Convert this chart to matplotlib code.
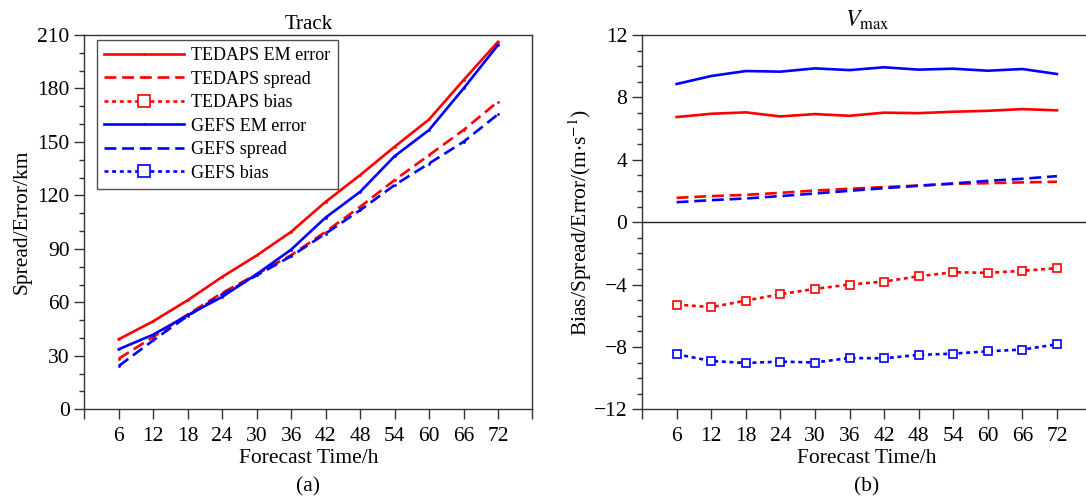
import matplotlib.pyplot as plt
from matplotlib.ticker import MultipleLocator

plt.rcParams["font.family"] = ["Liberation Serif", "DejaVu Serif"]
plt.rcParams["mathtext.fontset"] = "stix"
plt.rcParams["axes.unicode_minus"] = True

hours = [6, 12, 18, 24, 30, 36, 42, 48, 54, 60, 66, 72]

# Track (km)
track_tedaps_err = [39.3, 49.4, 61.2, 74.3, 86.3, 99.6, 116.4, 131.4, 147.3, 162.6, 184.7, 206.2]
track_gefs_err = [33.7, 41.9, 52.8, 63.1, 75.8, 89.6, 107.6, 122.0, 142.0, 156.7, 180.0, 204.4]
track_tedaps_spread = [28.4, 40.6, 53.2, 65.3, 75.8, 86.5, 99.6, 113.6, 128.6, 142.6, 156.7, 172.6]
track_gefs_spread = [24.3, 38.7, 52.4, 64.4, 75.1, 85.9, 98.6, 111.7, 125.8, 137.9, 150.1, 165.5]

# Vmax (m/s)
vmax_tedaps_err = [6.74, 6.95, 7.04, 6.78, 6.93, 6.82, 7.02, 6.99, 7.08, 7.14, 7.25, 7.17]
vmax_gefs_err = [8.86, 9.37, 9.69, 9.65, 9.86, 9.75, 9.93, 9.78, 9.84, 9.71, 9.82, 9.50]
vmax_tedaps_spread = [1.56, 1.67, 1.75, 1.88, 2.03, 2.14, 2.25, 2.35, 2.46, 2.50, 2.55, 2.59]
vmax_gefs_spread = [1.28, 1.41, 1.52, 1.67, 1.84, 2.01, 2.18, 2.33, 2.48, 2.65, 2.78, 2.95]
vmax_tedaps_bias = [-5.28, -5.45, -5.03, -4.62, -4.28, -4.00, -3.81, -3.47, -3.21, -3.25, -3.12, -2.95]
vmax_gefs_bias = [-8.47, -8.90, -9.03, -8.94, -9.00, -8.71, -8.73, -8.51, -8.43, -8.28, -8.17, -7.83]

RED = "#ff0000"
BLUE = "#0000ff"
LW = 1.9
SOLID = "-"
SPREAD_DASH = (0, (4.5, 2.2))
BIAS_DASH = (0, (1.5, 1.4))

fig = plt.figure(figsize=(10.86, 4.98), dpi=100)
ax1 = fig.add_axes([0.0776, 0.1781, 0.4127, 0.7516])
ax2 = fig.add_axes([0.5912, 0.1781, 0.4139, 0.7516])


def style_axes(ax):
    for sp in ax.spines.values():
        sp.set_color("#333333")
        sp.set_linewidth(1.0)
    ax.tick_params(which="both", direction="out", top=False, right=False,
                   labelsize=15.5, color="#333333", width=1.0)
    ax.tick_params(which="major", length=7)
    ax.tick_params(which="minor", length=3.5)
    ax.set_xlim(0, 78)
    ax.set_xticks(range(0, 79, 6))
    ax.set_xticklabels([""] + [str(h) for h in hours] + [""])
    ax.tick_params(axis="x", pad=6)
    ax.set_xlabel("Forecast Time/h", fontsize=15.5, labelpad=2)


# (a) Track
ax1.plot(hours, track_tedaps_err, color=RED, lw=LW, ls=SOLID,
         marker=".", ms=2, label="TEDAPS EM error")
ax1.plot(hours, track_tedaps_spread, color=RED, lw=LW, ls=SPREAD_DASH,
         marker=".", ms=2, label="TEDAPS spread")
ax1.plot([], [], color=RED, lw=LW, ls=BIAS_DASH, marker="s", ms=9,
         mfc="white", mew=1.2, label="TEDAPS bias")
ax1.plot(hours, track_gefs_err, color=BLUE, lw=LW, ls=SOLID,
         marker=".", ms=2, label="GEFS EM error")
ax1.plot(hours, track_gefs_spread, color=BLUE, lw=LW, ls=SPREAD_DASH,
         marker=".", ms=2, label="GEFS spread")
ax1.plot([], [], color=BLUE, lw=LW, ls=BIAS_DASH, marker="s", ms=9,
         mfc="white", mew=1.2, label="GEFS bias")

style_axes(ax1)
ax1.set_ylim(0, 210)
ax1.yaxis.set_major_locator(MultipleLocator(30))
ax1.yaxis.set_minor_locator(MultipleLocator(10))
ax1.set_ylabel("Spread/Error/km", fontsize=15.5, labelpad=4)
ax1.set_title("Track", fontsize=15, pad=4)
leg = ax1.legend(loc="upper left", bbox_to_anchor=(0.029, 0.987), fontsize=13,
                 frameon=True, fancybox=False, edgecolor="#222222",
                 handlelength=4.4, handletextpad=0.4, labelspacing=0.36,
                 borderpad=0.4, borderaxespad=0)
leg.get_frame().set_linewidth(1.0)
ax1.text(0.5, -0.208, "(a)", transform=ax1.transAxes, ha="center", va="center",
         fontsize=15.5)

# (b) Vmax
ax2.axhline(0, color="#222222", lw=1.0, zorder=1)
ax2.plot(hours, vmax_gefs_err, color=BLUE, lw=LW, ls=SOLID)
ax2.plot(hours, vmax_tedaps_err, color=RED, lw=LW, ls=SOLID)
ax2.plot(hours, vmax_tedaps_spread, color=RED, lw=LW, ls=SPREAD_DASH)
ax2.plot(hours, vmax_gefs_spread, color=BLUE, lw=LW, ls=SPREAD_DASH)
ax2.plot(hours, vmax_tedaps_bias, color=RED, lw=LW, ls=BIAS_DASH,
         marker="s", ms=6, mfc="white", mew=1.2)
ax2.plot(hours, vmax_gefs_bias, color=BLUE, lw=LW, ls=BIAS_DASH,
         marker="s", ms=6, mfc="white", mew=1.2)

style_axes(ax2)
ax2.set_ylim(-12, 12)
ax2.yaxis.set_major_locator(MultipleLocator(4))
ax2.yaxis.set_minor_locator(MultipleLocator(1))
ax2.set_ylabel("Bias/Spread/Error/(m$\\cdot$s$^{-1}$)", fontsize=15.5, labelpad=0)
ax2.set_title("$V_{\\mathrm{max}}$", fontsize=17, pad=6)
ax2.text(0.5, -0.208, "(b)", transform=ax2.transAxes, ha="center", va="center",
         fontsize=15.5)

fig.savefig("out.png", dpi=100)
